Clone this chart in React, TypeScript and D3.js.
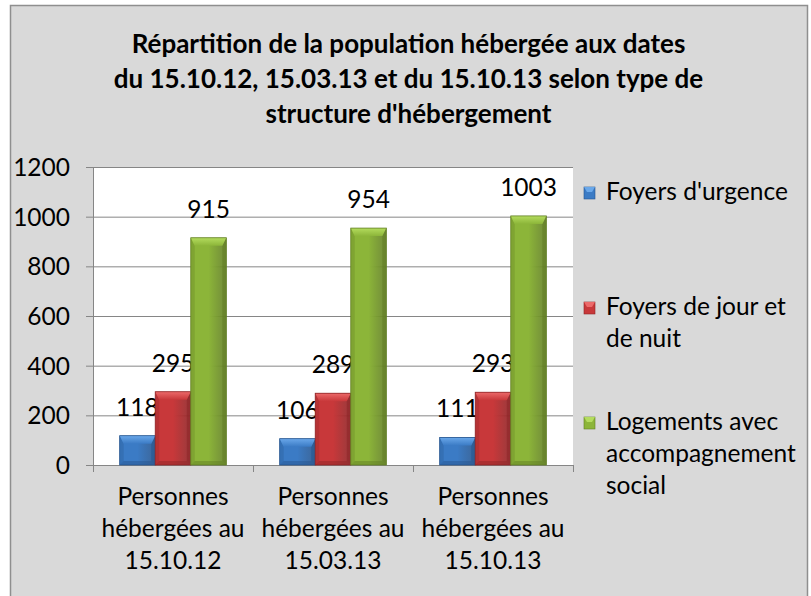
import React from "react";
import * as d3 from "d3";

// chart data
const categories = [
  ["Personnes", "hébergées au", "15.10.12"],
  ["Personnes", "hébergées au", "15.03.13"],
  ["Personnes", "hébergées au", "15.10.13"],
];
const seriesNames = [
  ["Foyers d'urgence"],
  ["Foyers de jour et", "de nuit"],
  ["Logements avec", "accompagnement", "social"],
];
const foyersUrgence = [118, 106, 111];
const foyersJourNuit = [295, 289, 293];
const logementsAccomp = [915, 954, 1003];
const yTicks = [0, 200, 400, 600, 800, 1000, 1200];
const titleLines = [
  "Répartition de la population hébergée aux dates",
  "du 15.10.12, 15.03.13 et du 15.10.13 selon type de",
  "structure d'hébergement",
];

const colors = [
  { main: "#3b7bc5", light: "#6aa8ea", dark: "#27568f" },
  { main: "#c8383a", light: "#ec6a6a", dark: "#8f2527" },
  { main: "#8cb539", light: "#b4dc5e", dark: "#627f24" },
];

const font = "Lato, 'Open Sans', sans-serif";
const fs = 24.5;

const plot = { left: 93, right: 573, top: 167, bottom: 465 };

export default function App() {
  const series = [foyersUrgence, foyersJourNuit, logementsAccomp];
  const catKeys = categories.map((c) => c[2]);

  const x = d3.scaleBand().domain(catKeys).range([plot.left, plot.right]).padding(0);
  const xs = d3
    .scaleBand<number>()
    .domain([0, 1, 2])
    .range([0, x.bandwidth()])
    .paddingInner(0)
    .paddingOuter(0.75);
  const y = d3.scaleLinear().domain([0, 1200]).range([plot.bottom, plot.top]);

  const bw = xs.bandwidth();
  const bev = 8;
  const side = 4;

  const bars: JSX.Element[] = [];
  series.forEach((vals, si) => {
    vals.forEach((v, ci) => {
      const x0 = (x(catKeys[ci]) as number) + (xs(si) as number);
      const y0 = y(v);
      const h = y(0) - y0;
      const c = colors[si];
      const x1 = x0 + bw;
      const y1 = y(0);
      const b = Math.min(bev, h / 2);
      bars.push(
        <g key={`b${si}-${ci}`}>
          <rect x={x0} y={y0} width={bw} height={h} fill={`url(#body${si})`} />
          {/* side bevels */}
          <polygon points={`${x0},${y0} ${x0 + side},${y0 + b} ${x0 + side},${y1 - side} ${x0},${y1}`} fill={c.dark} opacity={0.3} />
          <polygon points={`${x1},${y0} ${x1 - side},${y0 + b} ${x1 - side},${y1 - side} ${x1},${y1}`} fill={c.dark} opacity={0.6} />
          <polygon points={`${x0},${y1} ${x0 + side},${y1 - side} ${x1 - side},${y1 - side} ${x1},${y1}`} fill={c.dark} opacity={0.5} />
          {/* top bevel */}
          <polygon points={`${x0},${y0} ${x1},${y0} ${x1 - side},${y0 + b} ${x0 + side},${y0 + b}`} fill={`url(#top${si})`} />
          <rect x={x0} y={y0} width={bw} height={h} fill="none" stroke={c.dark} strokeWidth={0.8} />
          <text x={x0 + bw / 2} y={y0 - 20} textAnchor="middle" fontFamily={font} fontSize={fs} fill="#000">
            {v}
          </text>
        </g>
      );
    });
  });

  return (
    <svg width={811} height={596} style={{ position: "absolute", left: 0, top: 0 }}>
      <defs>
        {colors.map((c, i) => (
          <React.Fragment key={i}>
            <linearGradient id={`body${i}`} x1="0" x2="1" y1="0" y2="0">
              <stop offset="0" stopColor={c.main} />
              <stop offset="0.5" stopColor={c.main} />
              <stop offset="1" stopColor={c.dark} stopOpacity={0.9} />
            </linearGradient>
            <linearGradient id={`top${i}`} x1="0" x2="0" y1="0" y2="1">
              <stop offset="0" stopColor={c.light} />
              <stop offset="1" stopColor={c.main} />
            </linearGradient>
          </React.Fragment>
        ))}
      </defs>
      <rect x={10.5} y={5.5} width={797} height={600} fill="#d9d9d9" stroke="#8f8f8f" strokeWidth={1.5} />

      {titleLines.map((t, i) => (
        <text key={t} x={408.5} y={53 + i * 35} textAnchor="middle" fontFamily={font} fontWeight="bold" fontSize={26} fill="#000">
          {t}
        </text>
      ))}

      <rect x={plot.left} y={plot.top} width={plot.right - plot.left} height={plot.bottom - plot.top} fill="#fff" />

      {yTicks.map((t) => (
        <g key={t}>
          <line x1={plot.left - 7} x2={plot.right} y1={y(t) + 0.5} y2={y(t) + 0.5} stroke="#868686" strokeWidth={1} />
          <text x={70} y={y(t) + 9} textAnchor="end" fontFamily={font} fontSize={fs} fill="#000">
            {t}
          </text>
        </g>
      ))}

      <line x1={plot.left + 0.5} x2={plot.left + 0.5} y1={plot.top} y2={plot.bottom + 7} stroke="#868686" strokeWidth={1} />
      {[...catKeys.map((k) => x(k) as number), plot.right].map((px, i) => (
        <line key={i} x1={px + 0.5} x2={px + 0.5} y1={plot.bottom} y2={plot.bottom + 7} stroke="#868686" strokeWidth={1} />
      ))}

      {bars}

      {categories.map((lines, ci) => (
        <text key={ci} textAnchor="middle" fontFamily={font} fontSize={fs} fill="#000">
          {lines.map((l, li) => (
            <tspan key={li} x={(x(catKeys[ci]) as number) + x.bandwidth() / 2} y={505 + li * 32}>
              {l}
            </tspan>
          ))}
        </text>
      ))}

      {seriesNames.map((lines, si) => {
        const base = [200, 315, 430][si];
        const c = colors[si];
        return (
          <g key={si}>
            <rect x={584} y={base - 13} width={11} height={12} fill={c.main} stroke={c.dark} strokeWidth={0.6} />
            <polygon points={`584,${base - 13} 595,${base - 13} 592,${base - 8} 587,${base - 8}`} fill={c.light} />
            <text fontFamily={font} fontSize={fs} fill="#000">
              {lines.map((l, li) => (
                <tspan key={li} x={606} y={base + li * 32}>
                  {l}
                </tspan>
              ))}
            </text>
          </g>
        );
      })}
    </svg>
  );
}
